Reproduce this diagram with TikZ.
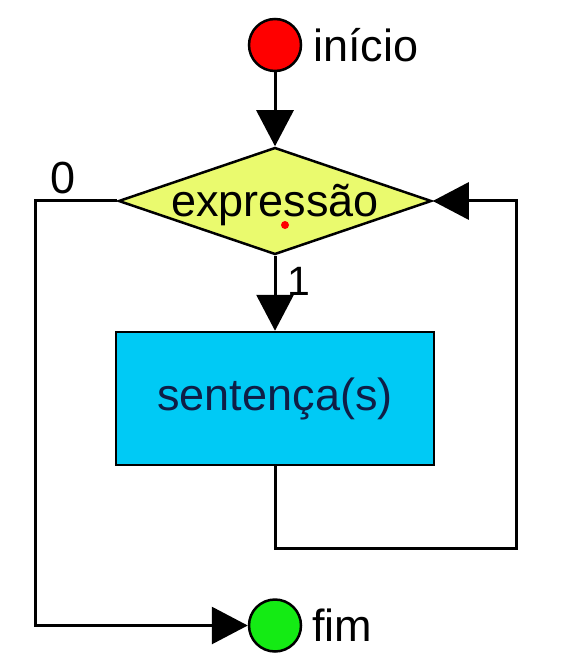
\documentclass[tikz,border=0pt]{standalone}
\usepackage{fontspec}
\setmainfont{Liberation Sans}
\usetikzlibrary{positioning, arrows.meta, shapes.geometric}
\definecolor{inicioRed}{RGB}{255,0,0}
\definecolor{fimGreen}{RGB}{20,235,20}
\definecolor{exprYellow}{RGB}{234,250,110}
\definecolor{blocoCyan}{RGB}{0,202,245}
\definecolor{blocoText}{RGB}{15,30,70}
\tikzset{
    flow/.style={line width=3pt, line join=miter, -{Triangle[length=36pt,width=37pt]}}, % the arrows of the flow
    terminal/.style={circle, draw, line width=2.5pt, minimum size=52pt, inner sep=0pt}, % start and end points
    decision/.style={diamond, draw, line width=2.5pt, fill=exprYellow, minimum width=313pt, minimum height=107pt, inner sep=0pt}, % the test
    process/.style={rectangle, draw, line width=2.5pt, fill=blocoCyan, minimum width=318pt, minimum height=133pt, text=blocoText}, % the body
    txt/.style={inner sep=0pt, font=\fontsize{45}{54}\selectfont}, % every label
}

\begin{document}
\begin{tikzpicture}[x=1pt, y=-1pt]
        \useasboundingbox (0,0) rectangle (577,668);
        \node[terminal, fill=inicioRed] (inicio) at (275,45) {};
        \node[decision, below=74pt of inicio] (expr) {};
        \node[txt] (exprtxt) at ([yshift=-4pt]expr.center) {expressão};
        \node[process, below=75pt of expr, font=\fontsize{45}{54}\selectfont] (sent) {sentença(s)};
        \node[terminal, fill=fimGreen, below=132pt of sent] (fim) {};
        \node[txt, right=11pt of inicio] (lblinicio) {início};
        \node[txt, right=10pt of fim] (lblfim) {fim};
        \node[txt] (zero) at (63,178) {0};
        \node[txt, font=\fontsize{41}{50}\selectfont] (um) at (299,281) {1};
        \node[circle, fill=red, minimum size=8pt, inner sep=0pt] (dot) at (285,225) {};

        \coordinate (back) at (516,548);
        \coordinate (skip) at (35,0);

        \draw[flow] (inicio) -- (expr);
        \draw[flow] (expr) -- (sent);
        \draw[flow] (sent.south) |- (back) |- (expr.east);
        \draw[flow] (expr.west) -| (skip |- fim.west) -- (fim.west);
    \end{tikzpicture}
\end{document}
